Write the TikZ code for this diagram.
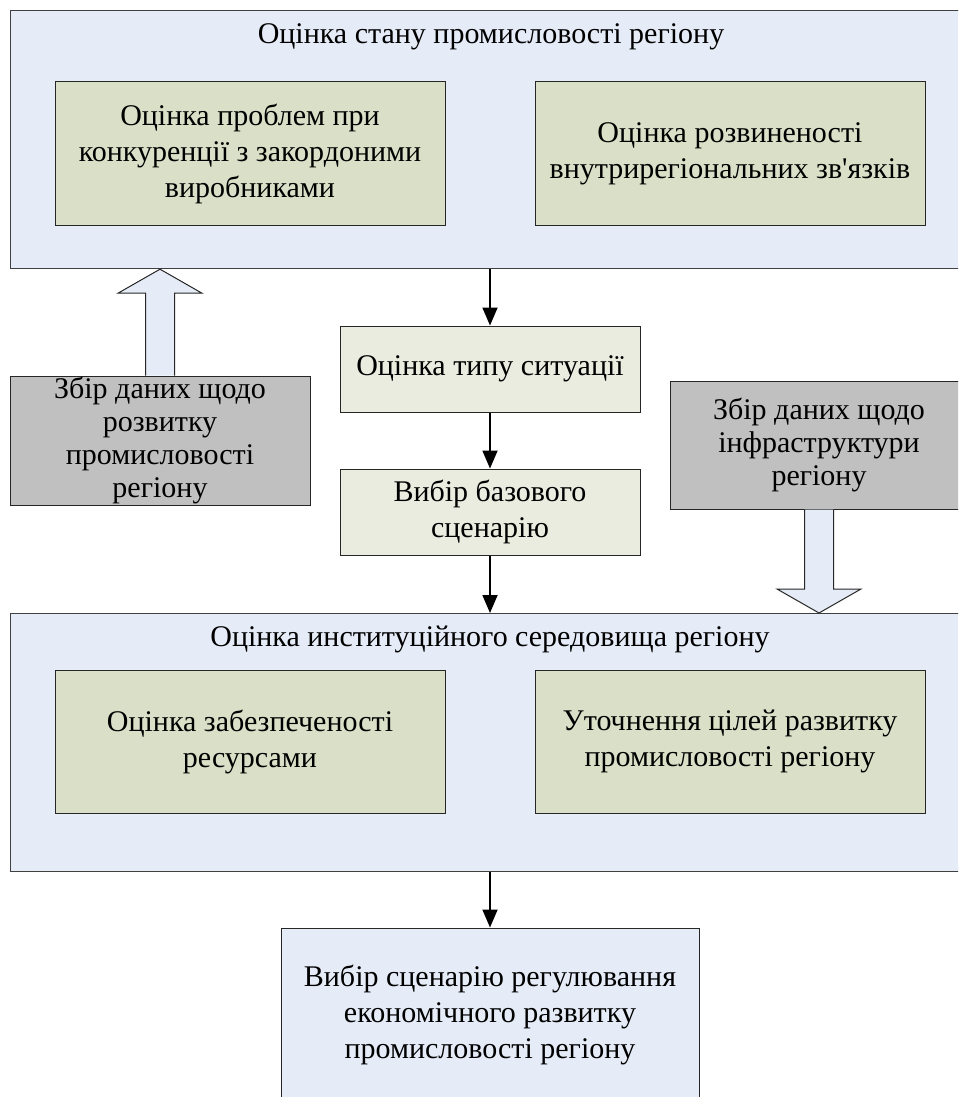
\documentclass[tikz,border=0pt]{standalone}
\usepackage{fontspec}
\setmainfont{Liberation Serif}
\usetikzlibrary{arrows.meta,calc}
\definecolor{outerfill}{HTML}{E6ECF7}
\definecolor{innerfill}{HTML}{DADFC7}
\definecolor{midfill}{HTML}{EAECE0}
\definecolor{grayfill}{HTML}{C0C0C0}
\definecolor{outerline}{HTML}{404040}
\tikzset{
  txt/.style={font=\fontsize{30}{36}\selectfont, align=center},
  outerbox/.style={draw=outerline, fill=outerfill, line width=1.2pt, anchor=north west, inner sep=0pt, minimum width=965pt, minimum height=258pt},
  innerbox/.style={txt, draw=black!85, fill=innerfill, line width=1pt, minimum width=390pt, minimum height=143pt, inner sep=0pt},
  midbox/.style={txt, draw=black!85, fill=midfill, line width=1pt, minimum width=300pt, minimum height=86pt, inner sep=0pt},
  graybox/.style={font=\fontsize{30}{33}\selectfont, align=center, draw=black!85, fill=grayfill, line width=1pt, minimum height=129pt, inner sep=0pt},
  finalbox/.style={txt, draw=black!85, fill=outerfill, line width=1pt, minimum width=418pt, minimum height=174pt, inner sep=0pt},
  conn/.style={draw=black, line width=1.8pt, -{Triangle[width=15pt,length=18pt]}},
  blockarr/.style={draw=black!85, fill=outerfill, line width=1pt, line join=miter}
}
\begin{document}
\begin{tikzpicture}[x=1pt,y=-1pt]
\useasboundingbox (0,0) rectangle (958,1097);
\clip (0,0) rectangle (958,1097);
% top big box
\node[outerbox] (top) at (10,10) {};
\node[txt, anchor=base] (toptitle) at (491,44) {Оцінка стану промисловості регіону};
\node[innerbox] (p1) at (250,153.5) {Оцінка проблем при\\конкуренції з закордоними\\виробниками};
\node[innerbox] (p2) at (730,153.5) {Оцінка розвиненості\\внутрирегіональних зв\textquotesingle язків};
% middle boxes
\node[midbox] (m1) at (490,369) {Оцінка типу ситуації};
\node[midbox] (m2) at (490,512) {Вибір базового\\сценарію};
% gray boxes
\node[graybox, minimum width=300pt] (g1) at (160,440.5) {Збір даних щодо\\розвитку\\промисловості\\регіону};
\node[graybox, minimum width=298pt, minimum height=128pt] (g2) at (819,445) {Збір даних щодо\\інфраструктури\\регіону};
% bottom big box
\node[outerbox] (bot) at (10,613) {};
\node[txt, anchor=base] (bottitle) at (490,646) {Оцінка институційного середовища регіону};
\node[innerbox] (q1) at (250,741.5) {Оцінка забезпеченості\\ресурсами};
\node[innerbox] (q2) at (730,741.5) {Уточнення цілей развитку\\промисловості регіону};
% final box
\node[finalbox] (fin) at (490,1015) {Вибір сценарію регулювання\\економічного развитку\\промисловості регіону};
% connectors
\draw[conn] (m1.north |- top.south) -- (m1.north);
\draw[conn] (m1.south) -- (m2.north);
\draw[conn] (m2.south) -- (m2.south |- bot.north);
\draw[conn] (fin.north |- bot.south) -- (fin.north);
% block arrows
\draw[blockarr] ($(g1.north)+(-14.5,0)$) -- ($(g1.north |- top.south)+(-14.5,24)$) -- ($(g1.north |- top.south)+(-42,24)$) -- (g1.north |- top.south) -- ($(g1.north |- top.south)+(42,24)$) -- ($(g1.north |- top.south)+(14.5,24)$) -- ($(g1.north)+(14.5,0)$);
\draw[blockarr] ($(g2.south)+(-14.5,0)$) -- ($(g2.south |- bot.north)+(-14.5,-24)$) -- ($(g2.south |- bot.north)+(-42,-24)$) -- (g2.south |- bot.north) -- ($(g2.south |- bot.north)+(42,-24)$) -- ($(g2.south |- bot.north)+(14.5,-24)$) -- ($(g2.south)+(14.5,0)$);
\end{tikzpicture}
\end{document}
